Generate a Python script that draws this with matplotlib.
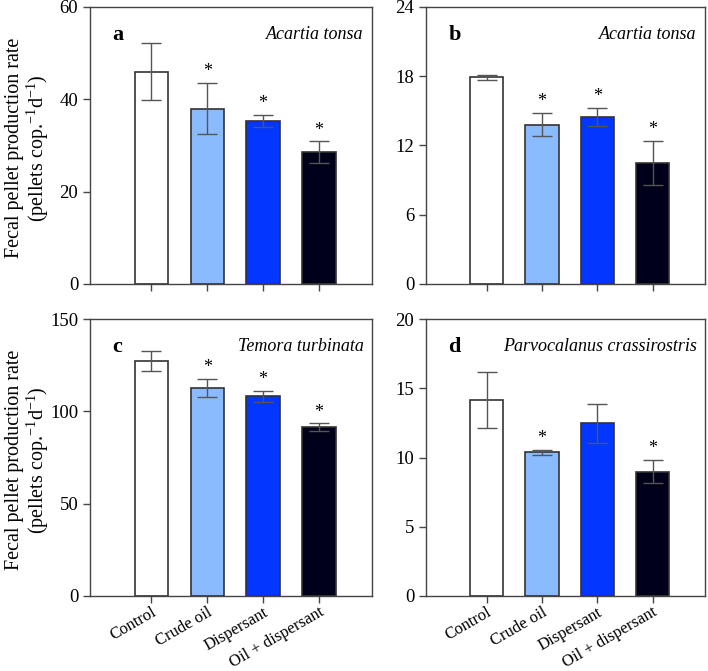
import matplotlib
matplotlib.use("Agg")
import matplotlib.pyplot as plt
import numpy as np

plt.rcParams['font.family'] = ['Liberation Serif', 'DejaVu Serif']
plt.rcParams['mathtext.fontset'] = 'custom'
plt.rcParams['mathtext.rm'] = 'Liberation Serif'
plt.rcParams['mathtext.default'] = 'regular'

categories = ["Control", "Crude oil", "Dispersant", "Oil + dispersant"]
colors = ["#ffffff", "#8abbff", "#0336ff", "#00001a"]

a_vals = [46.0, 38.0, 35.3, 28.6]
a_err = [6.2, 5.5, 1.4, 2.3]
a_sig = [False, True, True, True]

b_vals = [17.9, 13.8, 14.45, 10.5]
b_err = [0.2, 1.0, 0.8, 1.9]
b_sig = [False, True, True, True]

c_vals = [127.3, 112.6, 108.1, 91.5]
c_err = [5.3, 5.1, 3.0, 2.0]
c_sig = [False, True, True, True]

d_vals = [14.15, 10.37, 12.47, 8.97]
d_err = [2.0, 0.2, 1.4, 0.83]
d_sig = [False, True, False, True]

panels = [
    ("a", "Acartia tonsa", a_vals, a_err, a_sig, 60, [0, 20, 40, 60]),
    ("b", "Acartia tonsa", b_vals, b_err, b_sig, 24, [0, 6, 12, 18, 24]),
    ("c", "Temora turbinata", c_vals, c_err, c_sig, 150, [0, 50, 100, 150]),
    ("d", "Parvocalanus crassirostris", d_vals, d_err, d_sig, 20, [0, 5, 10, 15, 20]),
]

W, H = 708, 671
fig = plt.figure(figsize=(W / 100, H / 100), dpi=100)

# pixel boxes: left, top, right, bottom
boxes = [
    (90, 7, 372, 284),
    (426, 7, 705, 284),
    (90, 319, 372, 596),
    (426, 319, 705, 596),
]

for (lab, sp, vals, err, sig, ymax, yt), (l, t, r, b) in zip(panels, boxes):
    ax = fig.add_axes([l / W, 1 - b / H, (r - l) / W, (b - t) / H])
    x = np.arange(len(categories))
    ax.bar(x, vals, width=0.6, color=colors, edgecolor="#333333", linewidth=1.2, zorder=2)
    ax.errorbar(x, vals, yerr=err, fmt="none", ecolor="#555555", elinewidth=1.0,
                capsize=7, capthick=1.0, zorder=3)
    for xi, v, e, s in zip(x, vals, err, sig):
        if s:
            ax.annotate("*", (xi, v + e), xytext=(0, 2), textcoords="offset points",
                        ha="center", va="bottom", fontsize=13)
    ax.set_xlim(-1.1, 3.95)
    ax.set_ylim(0, ymax)
    ax.set_yticks(yt)
    ax.set_xticks(x)
    for sp_name in ax.spines:
        ax.spines[sp_name].set_color("#444444")
        ax.spines[sp_name].set_linewidth(1.0)
    ax.tick_params(axis="both", direction="out", length=5, width=1.0, color="#444444",
                   labelsize=13.5, top=False, right=False)
    ax.tick_params(axis="x", pad=1)
    if lab in ("c", "d"):
        ax.set_xticklabels(categories, rotation=30, ha="right", rotation_mode="anchor",
                           fontsize=12)
    else:
        ax.set_xticklabels([])
    ax.text(0.08, 0.9, lab, transform=ax.transAxes, fontsize=16, fontweight="bold",
            ha="left", va="center")
    ax.text(0.97, 0.9, sp, transform=ax.transAxes, fontsize=13, style="italic",
            ha="right", va="center")
    if lab in ("a", "c"):
        ax.set_ylabel("Fecal pellet production rate\n(pellets cop.$^{-1}$d$^{-1}$)",
                      fontsize=14.5, linespacing=1.0)
        ax.yaxis.set_label_coords(-0.14, 0.49)

fig.savefig("out.png", dpi=100)
